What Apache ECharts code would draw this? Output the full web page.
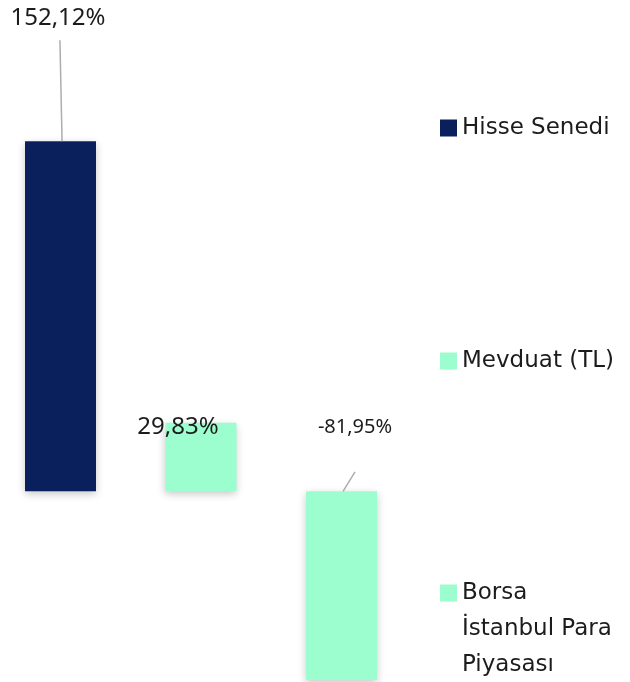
<!DOCTYPE html>
<html>
<head>
<meta charset="utf-8">
<script src="https://cdn.jsdelivr.net/npm/echarts@6/dist/echarts.min.js"></script>
<style>
  html, body { margin: 0; padding: 0; background: #fff; }
  #chart { width: 630px; height: 682px; }
</style>
</head>
<body>
<div id="chart"></div>
<script>
const categories = ['Hisse Senedi', 'Mevduat (TL)', 'Borsa İstanbul Para Piyasası']
const values = [152.12, 29.83, -81.95]
const valueLabels = ['152,12%', '29,83%', '-81,95%']
const barColors = ['#0a205c', '#9cfdcf', '#9cfdcf']
// legend text as it wraps in the original (blank lines keep the icon on the first line)
const legendLines = ['Hisse Senedi', 'Mevduat (TL)', '\n\nBorsa\nİstanbul Para\nPiyasası']
// leader lines from a label down to its bar, in data units [x index, value]
const leaderLines = [
  [[-0.004, 196], [0.011, 152.12]],
  null,
  [[2.096, 8.4], [2.011, 0]]
]

const chart = echarts.init(document.getElementById('chart'))

const LABEL_FONT = 'Noto Sans'
const LEGEND_FONT = 'DejaVu Sans'

// where each value label sits
const labelSpots = [
  { x: 58, y: 5, size: 24, lh: 26 },
  { x: 178, y: 414, size: 24, lh: 26 },
  { x: 355, y: 416, size: 20, lh: 22 }
]

const series = categories.map((name, i) => ({
  name: name,
  type: 'bar',
  barWidth: 71,
  barGap: '-100%',
  data: [[i, values[i]]],
  itemStyle: {
    color: barColors[i],
    shadowBlur: 8,
    shadowColor: 'rgba(0,0,0,0.22)',
    shadowOffsetY: 3
  },
  label: {
    show: true,
    position: 'top',
    formatter: () => valueLabels[i],
    color: '#1c1c1c',
    fontFamily: LABEL_FONT,
    fontSize: labelSpots[i].size,
    lineHeight: labelSpots[i].lh
  },
  labelLayout: () => ({
    x: labelSpots[i].x,
    y: labelSpots[i].y,
    align: 'center',
    verticalAlign: 'top'
  }),
  markLine: leaderLines[i] ? {
    silent: true,
    symbol: 'none',
    animation: false,
    label: { show: false },
    lineStyle: { color: '#adadad', width: 1.5, type: 'solid' },
    data: [[{ coord: leaderLines[i][0] }, { coord: leaderLines[i][1] }]]
  } : undefined
}))

const legendTops = [110, 343, 503]
const legends = categories.map((name, i) => ({
  data: [name],
  left: 440,
  top: legendTops[i],
  padding: 0,
  itemWidth: 17,
  itemHeight: 17,
  itemGap: 0,
  icon: 'rect',
  formatter: () => legendLines[i],
  textStyle: {
    fontFamily: LEGEND_FONT,
    fontSize: 23,
    color: '#1c1c1c',
    lineHeight: 36
  }
}))

const option = {
  animation: false,
  legend: legends,
  grid: { left: 0, width: 421.5, top: 31, bottom: 2 },
  xAxis: {
    type: 'value',
    min: -0.4306,
    max: 2.5694,
    show: false
  },
  yAxis: {
    type: 'value',
    min: -82,
    max: 200,
    show: false
  },
  series: series
}

chart.setOption(option)
window.addEventListener('resize', () => chart.resize())
</script>
</body>
</html>
